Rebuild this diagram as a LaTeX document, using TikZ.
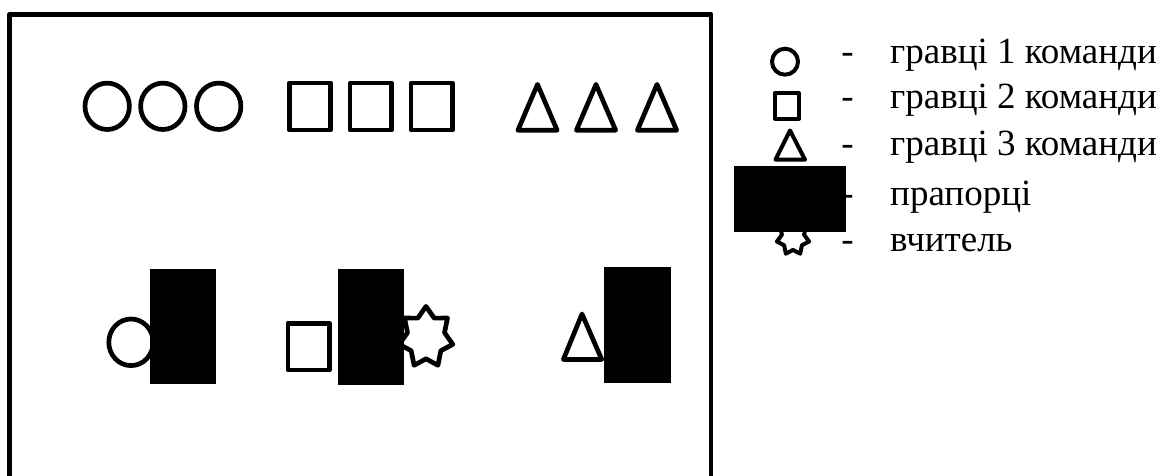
\documentclass[tikz,border=0pt]{standalone}
\usepackage{fontspec}
\setmainfont{Liberation Serif}
\tikzset{teacher/.pic={
  \draw[pic actions] plot[samples at={0,...,13}, variable=\k]
    ({ifthenelse(mod(\k,2)==0,1,0.69)*cos(\k*360/14-90)},
     {ifthenelse(mod(\k,2)==0,1,0.69)*sin(\k*360/14-90)}) -- cycle;}}

\begin{document}
\begin{tikzpicture}[x=1pt, y=-1pt,
  field/.style={line width=4.7pt, line join=round},
  player/.style={draw, line width=4.7pt, line join=round, fill=white},
  keyshape/.style={draw, line width=4pt, line join=round, fill=white},
  flag/.style={fill=black},
  legendtext/.style={font=\fontsize{37}{44}\selectfont, inner sep=0pt}]
\useasboundingbox (0,0) rectangle (1166,476);
\draw[field] (9.7,476) -- (9.7,14.3) -- (711,14.3) -- (711,476);

\foreach \x in {107.2,162.8,218.7}
  \draw[player] (\x,106.3) ellipse [x radius=22.2pt, y radius=23.2pt];
\foreach \x in {310,370.7,431.7}
  \draw[player] ({\x-20.7},83) rectangle ({\x+20.7},130);
\foreach \a in {537.5,596,657}
  \draw[player] ({\a-19.6},130.2) -- (\a,84.4) -- ({\a+19.6},130.2) -- cycle;

\draw[player] (131,342.3) ellipse [x radius=22.2pt, y radius=23.3pt];
\fill[flag] (150,269) rectangle (216,384);
\draw[player] (288,323.3) rectangle (329.4,370);
\pic[player, xscale=27.5, yscale=31] at (426,337.4) {teacher};
\fill[flag] (338.3,269) rectangle (404,385);
\draw[player] (563.4,359.4) -- (582,314) -- (601.7,359.4) -- cycle;
\fill[flag] (604,266.7) rectangle (670.7,382.7);

\foreach \y/\t [count=\i] in {63.3/гравці 1 команди, 108.3/гравці 2 команди,
    155/гравці 3 команди, 205/прапорці, 251.7/вчитель} {
  \node[legendtext, anchor=base] (dash\i) at (847.5,\y) {-};
  \node[legendtext, anchor=base west] (text\i) at (890,\y) {\t};
}
\draw[keyshape] (785,61.7) circle [radius=13pt];
\draw[keyshape] (775.3,93) rectangle (799,118.7);
\draw[keyshape] (775.5,159.7) -- (790,130.5) -- (805,159.7) -- cycle;
\pic[keyshape, xscale=16.5, yscale=18] at (793,237.5) {teacher};
\fill[flag] (734,165.7) rectangle (846,232.3);
\end{tikzpicture}
\end{document}
